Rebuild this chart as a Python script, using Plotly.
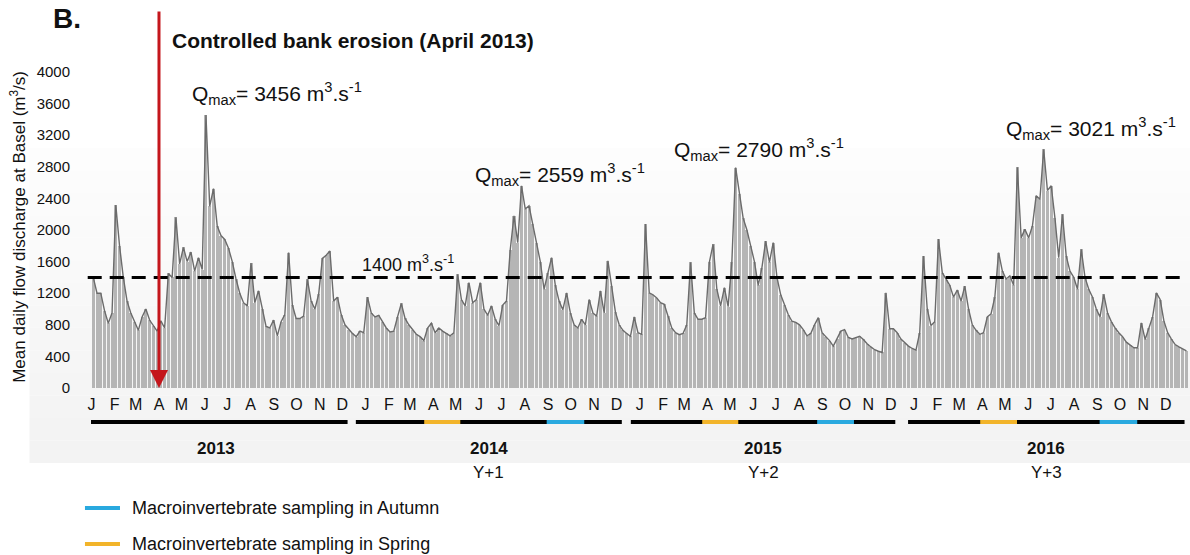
import pandas as pd
import plotly.graph_objects as go

# Mean daily discharge of the Rhine at Basel, one value per 5-day step (m3/s)
YEARS = [2013, 2014, 2015, 2016]
Q_2013 = [1400, 1200, 1200, 980, 820, 950, 2315, 1800, 1400, 1100,
          950, 840, 730, 900, 1000, 860, 790, 720, 850, 760,
          1450, 1400, 2160, 1570, 1780, 1600, 1720, 1480, 1650, 1500,
          3456, 2300, 2525, 2050, 1930, 1880, 1770, 1600, 1380, 1200,
          1080, 1040, 1580, 1080, 1230, 1000, 780, 760, 860, 660,
          840, 930, 1715, 1050, 880, 880, 910, 1375, 1100, 1000,
          1185, 1640, 1680, 1735, 1100, 1150, 930, 800, 740, 690,
          650, 720, 700]
Q_2014 = [1150, 950, 900, 920, 830, 760, 710, 720, 900, 1070,
          880, 800, 740, 680, 650, 600, 760, 820, 700, 760,
          720, 690, 660, 700, 1440, 1120, 1040, 1335, 1080, 1120,
          1335, 1000, 920, 1040, 870, 790, 1050, 1100, 1750, 2180,
          1840, 2559, 2265, 2305, 2070, 1840, 1600, 1250, 1450, 1650,
          1300, 1100, 990, 1205, 950, 800, 760, 870, 800, 1120,
          950, 910, 1230, 950, 1610, 1290, 960, 800, 730, 690,
          655, 900, 700]
Q_2015 = [680, 2075, 1205, 1180, 1140, 1080, 1060, 910, 760, 700,
          675, 690, 800, 1590, 950, 870, 870, 890, 1590, 1820,
          1250, 1040, 1270, 1030, 1600, 2790, 2450, 2150, 2000, 1800,
          1600, 1300, 1525, 1860, 1590, 1840, 1400, 1180, 1050, 930,
          845, 830, 800, 740, 660, 690, 800, 890, 700, 650,
          600, 530, 620, 720, 740, 640, 620, 635, 655, 615,
          560, 520, 485, 465, 450, 1205, 750, 750, 700, 620,
          570, 530, 500]
Q_2016 = [480, 700, 1670, 1000, 790, 840, 1885, 1460, 1370, 1300,
          1150, 1240, 1100, 1290, 1000, 800, 730, 680, 700, 900,
          940, 1150, 1715, 1480, 1380, 1420, 1300, 2795, 1900, 2010,
          1900, 2050, 2435, 2390, 3021, 2500, 2560, 2150, 1650, 2200,
          1670, 1480, 1400, 1250, 1755, 1400, 1250, 1150, 1000, 900,
          1185, 950, 840, 760, 700, 650, 580, 540, 510, 510,
          825, 615, 760, 900, 1205, 1120, 850, 700, 620, 550,
          520, 500, 470]

MONTH_LETTERS = ["J", "F", "M", "A", "M", "J", "J", "A", "S", "O", "N", "D"]
THRESHOLD = 1400
EROSION_DATE = "2013-04-01"

YEAR_LABELS = ["2013", "2014", "2015", "2016"]
YEAR_SUBLABELS = ["", "Y+1", "Y+2", "Y+3"]
YEAR_SPANS = [("2012-12-22", "2013-12-08"), ("2013-12-19", "2014-12-08"),
              ("2014-12-20", "2015-12-07"), ("2015-12-24", "2016-12-26")]
SPRING_SAMPLING = [("2014-03-20", "2014-05-07"), ("2015-03-25", "2015-05-12"),
                   ("2016-03-29", "2016-05-17")]
AUTUMN_SAMPLING = [("2014-08-30", "2014-10-19"), ("2015-08-25", "2015-10-13"),
                   ("2016-09-04", "2016-10-24")]

FONT = "Arial, 'Liberation Sans', sans-serif"
BAR_GREY = "#b5b5b5"
LINE_GREY = "#6b6b6b"
RED = "#c4161c"
BLUE = "#29a9df"
YELLOW = "#f2b42a"
INK = "#111111"

series = dict(zip(YEARS, [Q_2013, Q_2014, Q_2015, Q_2016]))

x_all, y_all, peaks = [], [], []
for yr in YEARS:
    vals = series[yr]
    starts = pd.date_range(f"{yr}-01-01", periods=len(vals), freq="5D")
    centers = starts + pd.Timedelta(hours=60)
    x_all += list(centers)
    y_all += vals
    i = max(range(len(vals)), key=lambda j: vals[j])
    peaks.append((centers[i], vals[i]))

fig = go.Figure()
fig.add_trace(go.Bar(x=x_all, y=y_all, width=4 * 86400000,
                     marker=dict(color=BAR_GREY, line=dict(width=0)),
                     hoverinfo="x+y", showlegend=False))
fig.add_trace(go.Scatter(x=x_all, y=y_all, mode="lines",
                         line=dict(color=LINE_GREY, width=1.4),
                         hoverinfo="skip", showlegend=False))

shapes = []
# soft grey panel behind the chart
n_bands = 14
top, bottom = 0.76, -0.237
for b in range(n_bands):
    y0 = top - (top - bottom) * b / n_bands
    y1 = top - (top - bottom) * (b + 1) / n_bands
    g = int(254 - 11 * (b + 1) / n_bands)
    shapes.append(dict(type="rect", xref="paper", yref="paper",
                       x0=-0.056, x1=1.001, y0=y1, y1=y0, layer="below",
                       line=dict(width=0), fillcolor=f"rgb({g},{g},{g})"))

# threshold discharge
shapes.append(dict(type="line", xref="paper", yref="y", x0=-0.003, x1=0.996,
                   y0=THRESHOLD, y1=THRESHOLD,
                   line=dict(color="black", width=3, dash="14px,8px")))

# year brackets with sampling periods
YEAR_LINE_Y = -0.1076
for a, b in YEAR_SPANS:
    shapes.append(dict(type="line", xref="x", yref="paper", x0=a, x1=b,
                       y0=YEAR_LINE_Y, y1=YEAR_LINE_Y,
                       line=dict(color="black", width=4)))
for a, b in SPRING_SAMPLING:
    shapes.append(dict(type="line", xref="x", yref="paper", x0=a, x1=b,
                       y0=YEAR_LINE_Y, y1=YEAR_LINE_Y,
                       line=dict(color=YELLOW, width=4)))
for a, b in AUTUMN_SAMPLING:
    shapes.append(dict(type="line", xref="x", yref="paper", x0=a, x1=b,
                       y0=YEAR_LINE_Y, y1=YEAR_LINE_Y,
                       line=dict(color=BLUE, width=4)))

# legend swatches
LEGEND_ROWS = [(-0.380, BLUE, "Macroinvertebrate sampling in Autumn"),
               (-0.494, YELLOW, "Macroinvertebrate sampling in Spring")]
for yy, col, _ in LEGEND_ROWS:
    shapes.append(dict(type="line", xref="paper", yref="paper",
                       x0=-0.0055, x1=0.0264, y0=yy, y1=yy,
                       line=dict(color=col, width=4)))

annotations = []
annotations.append(dict(text="<b>B.</b>", xref="paper", yref="paper",
                        x=-0.0219, y=1.168, xanchor="center", yanchor="middle",
                        showarrow=False,
                        font=dict(size=28, color=INK, family=FONT)))
annotations.append(dict(text="<b>Controlled bank erosion (April 2013)</b>",
                        xref="paper", yref="paper", x=0.072, y=1.101,
                        xanchor="left", yanchor="middle", showarrow=False,
                        font=dict(size=21, color=INK, family=FONT)))
annotations.append(dict(text="", x=EROSION_DATE, y=0, xref="x", yref="y",
                        ax=0, ay=-378, showarrow=True, arrowhead=2,
                        arrowsize=1.2, arrowwidth=3, arrowcolor=RED))
annotations.append(dict(text="Mean daily flow discharge at Basel (m<sup>3</sup>/s)",
                        xref="paper", yref="paper", x=-0.0665, y=0.51,
                        xanchor="center", yanchor="middle",
                        textangle=-90, showarrow=False,
                        font=dict(size=17, color=INK, family=FONT)))
annotations.append(dict(text=f"{THRESHOLD} m<sup>3</sup>.s<sup>-1</sup>",
                        xref="paper", yref="y", x=0.245, y=THRESHOLD,
                        xanchor="left", yanchor="bottom", yshift=0,
                        showarrow=False,
                        font=dict(size=18, color=INK, family=FONT)))

peak_shifts = [(-16, 5), (-49, -5), (-64, 2), (-40, 4)]
for (px, pv), (dx, dy) in zip(peaks, peak_shifts):
    annotations.append(dict(
        text=f"Q<sub>max</sub>= {pv} m<sup>3</sup>.s<sup>-1</sup>",
        x=px, y=pv, xref="x", yref="y", xanchor="left", yanchor="bottom",
        xshift=dx, yshift=dy, showarrow=False,
        font=dict(size=21, color=INK, family=FONT)))

for (a, b), lab, sub in zip(YEAR_SPANS, YEAR_LABELS, YEAR_SUBLABELS):
    mid = pd.Timestamp(a) + (pd.Timestamp(b) - pd.Timestamp(a)) / 2
    annotations.append(dict(text=f"<b>{lab}</b>", x=mid, y=-0.19, xref="x",
                            yref="paper", xanchor="center", yanchor="middle",
                            showarrow=False,
                            font=dict(size=17, color=INK, family=FONT)))
    if sub:
        annotations.append(dict(text=sub, x=mid, y=-0.266, xref="x",
                                yref="paper", xanchor="center",
                                yanchor="middle", showarrow=False,
                                font=dict(size=17, color=INK, family=FONT)))

for yy, _, txt in LEGEND_ROWS:
    annotations.append(dict(text=txt, xref="paper", yref="paper", x=0.0355,
                            y=yy, xanchor="left", yanchor="middle",
                            showarrow=False,
                            font=dict(size=18, color=INK, family=FONT)))

month_starts = [pd.Timestamp(f"{yr}-{m:02d}-01") for yr in YEARS for m in range(1, 13)]
month_text = MONTH_LETTERS * len(YEARS)

fig.update_layout(
    width=1190, height=555,
    margin=dict(l=91, r=1, t=72, b=167, pad=0),
    paper_bgcolor="white", plot_bgcolor="rgba(0,0,0,0)",
    font=dict(family=FONT, color=INK),
    shapes=shapes, annotations=annotations,
    showlegend=False, bargap=0,
    xaxis=dict(type="date", range=["2012-12-31 12:00", "2016-12-31 22:00"],
               tickmode="array", tickvals=month_starts, ticktext=month_text,
               ticks="", showgrid=False, zeroline=False, showline=False,
               tickfont=dict(size=16, color=INK, family=FONT),
               ticklabelstandoff=5),
    yaxis=dict(range=[0, 4000], tickmode="linear", tick0=0, dtick=400,
               ticks="", showgrid=False, zeroline=False, showline=False,
               tickfont=dict(size=15, color=INK, family=FONT),
               ticklabelstandoff=20),
)

fig.write_html("out.html")
